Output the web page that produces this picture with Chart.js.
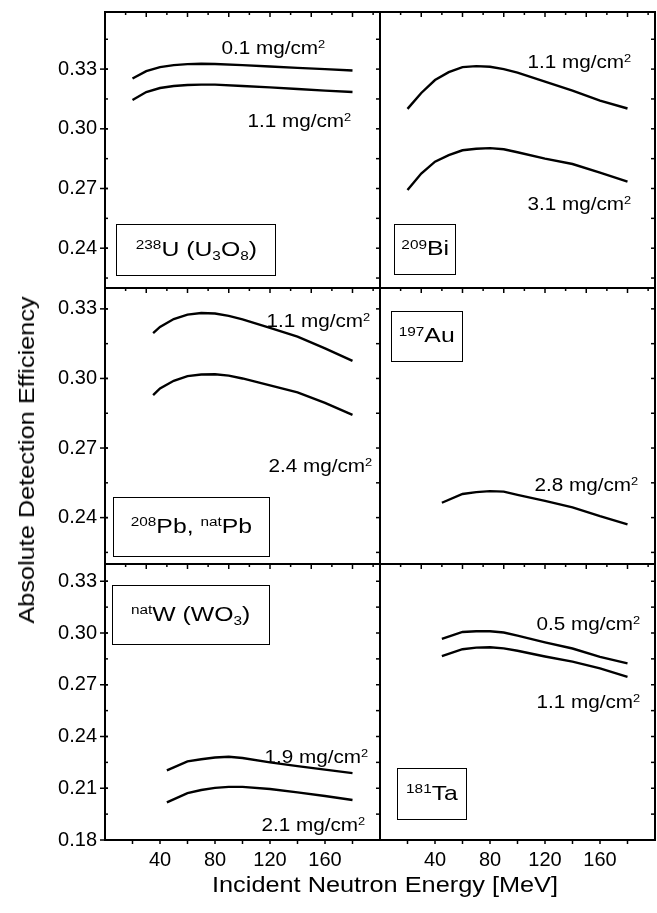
<!DOCTYPE html>
<html>
<head>
<meta charset="utf-8">
<script src="https://cdn.jsdelivr.net/npm/chart.js@4/dist/chart.umd.min.js"></script>
<style>
html,body{margin:0;padding:0;background:#fff;}
#fig{position:relative;width:657px;height:913px;overflow:hidden;background:#fff;font-family:"Liberation Sans",Arial,Helvetica,sans-serif;color:#000;}
#fig canvas{position:absolute;}
.ann{position:absolute;white-space:nowrap;font-size:18px;line-height:20px;z-index:5;}
.ann .in{display:inline-block;transform:scaleX(1.15);transform-origin:100% 50%;}
.box{position:absolute;border:1.5px solid #000;box-sizing:border-box;display:flex;align-items:center;justify-content:center;white-space:nowrap;font-size:21px;line-height:24px;z-index:5;background:transparent;}
.box .in{display:inline-block;transform:scaleX(1.18);transform-origin:50% 50%;}
.sp{font-size:0.62em;position:relative;top:-0.5em;}
.sb{font-size:0.62em;position:relative;top:0.35em;}
.title{position:absolute;white-space:nowrap;font-size:22px;line-height:26px;z-index:5;}
</style>
</head>
<body>
<div id="fig"></div>
<script>
// ---------------- data ----------------
const xTickLabels   = [40, 80, 120, 160];
const xBottomTicks  = [20, 40, 60, 80, 100, 120, 140, 160, 180];
const xTopTicks     = [15, 30, 45, 60, 75, 90, 105, 120, 135, 150, 165, 180, 195];
const xTopMajor     = [30, 60, 90, 120, 150, 180];

const yTicksRow1 = [0.24, 0.27, 0.30, 0.33];
const yMinorRow1 = [0.225, 0.24, 0.255, 0.27, 0.285, 0.30, 0.315, 0.33, 0.345];
const yTicksRow2 = [0.24, 0.27, 0.30, 0.33];
const yMinorRow2 = [0.225, 0.24, 0.255, 0.27, 0.285, 0.30, 0.315, 0.33];
const yTicksRow3 = [0.18, 0.21, 0.24, 0.27, 0.30, 0.33];
const yMinorRow3 = [0.195, 0.21, 0.225, 0.24, 0.255, 0.27, 0.285, 0.30, 0.315, 0.33];

const yRangeRow1 = [0.22, 0.3587];
const yRangeRow2 = [0.22, 0.339];
const yRangeRow3 = [0.18, 0.34];

// 238U (U3O8)
const energyU   = [20, 30, 40, 50, 60, 70, 80, 100, 120, 140, 160, 180];
const effU_0p1  = [0.3253, 0.3290, 0.3310, 0.3320, 0.3325, 0.3327, 0.3326, 0.3320, 0.3313, 0.3306, 0.3300, 0.3293];
const effU_1p1  = [0.3145, 0.3185, 0.3205, 0.3215, 0.3220, 0.3222, 0.3222, 0.3215, 0.3208, 0.3200, 0.3192, 0.3185];
// 209Bi
const energyBi  = [20, 30, 40, 50, 60, 70, 80, 90, 100, 120, 140, 160, 180];
const effBi_1p1 = [0.3100, 0.3180, 0.3245, 0.3285, 0.3310, 0.3315, 0.3312, 0.3300, 0.3282, 0.3237, 0.3192, 0.3142, 0.3102];
const effBi_3p1 = [0.2692, 0.2775, 0.2835, 0.2868, 0.2892, 0.2900, 0.2903, 0.2897, 0.2882, 0.2850, 0.2823, 0.2780, 0.2735];
// 208Pb, natPb
const energyPb  = [35, 40, 50, 60, 70, 80, 90, 100, 120, 140, 160, 180];
const effPb_1p1 = [0.3195, 0.3222, 0.3256, 0.3275, 0.3282, 0.3280, 0.3270, 0.3255, 0.3218, 0.3180, 0.3130, 0.3076];
const effPb_2p4 = [0.2928, 0.2957, 0.2990, 0.3010, 0.3017, 0.3018, 0.3012, 0.3000, 0.2970, 0.2940, 0.2895, 0.2843];
// 197Au
const energyAu  = [45, 60, 70, 80, 90, 100, 120, 140, 160, 180];
const effAu_2p8 = [0.2464, 0.2502, 0.2510, 0.2514, 0.2512, 0.2498, 0.2472, 0.2444, 0.2406, 0.2371];
// natW (WO3)
const energyW   = [45, 60, 70, 80, 90, 100, 120, 140, 160, 180];
const effW_1p9  = [0.2204, 0.2256, 0.2268, 0.2278, 0.2283, 0.2275, 0.2250, 0.2228, 0.2208, 0.2188];
const effW_2p1  = [0.2018, 0.2072, 0.2090, 0.2102, 0.2108, 0.2108, 0.2096, 0.2076, 0.2055, 0.2032];
// 181Ta
const energyTa  = [45, 60, 70, 80, 90, 100, 120, 140, 160, 180];
const effTa_0p5 = [0.2966, 0.3006, 0.3010, 0.3010, 0.3003, 0.2985, 0.2946, 0.2910, 0.2862, 0.2824];
const effTa_1p1 = [0.2866, 0.2906, 0.2915, 0.2917, 0.2911, 0.2897, 0.2864, 0.2834, 0.2795, 0.2746];

// ---------------- layout ----------------
const COL_LEFT = [105, 380];
const ROW_TOP  = [12, 288, 564];
const PW = 275, PH = 276;
const PAD = 24, YW = 90, XH = 40;
const FONT = '"Liberation Sans", Arial, Helvetica, sans-serif';

const rows = [
  {range: yRangeRow1, ticks: yTicksRow1, minor: yMinorRow1},
  {range: yRangeRow2, ticks: yTicksRow2, minor: yMinorRow2},
  {range: yRangeRow3, ticks: yTicksRow3, minor: yMinorRow3}
];

const panels = [
  {r:0, c:0, series:[[energyU, effU_0p1], [energyU, effU_1p1]]},
  {r:0, c:1, series:[[energyBi, effBi_1p1], [energyBi, effBi_3p1]]},
  {r:1, c:0, series:[[energyPb, effPb_1p1], [energyPb, effPb_2p4]]},
  {r:1, c:1, series:[[energyAu, effAu_2p8]]},
  {r:2, c:0, series:[[energyW, effW_1p9], [energyW, effW_2p1]]},
  {r:2, c:1, series:[[energyTa, effTa_0p5], [energyTa, effTa_1p1]]}
];

const near = (a, b) => Math.abs(a - b) < 1e-6;

const framePlugin = {
  id: 'frame',
  afterDraw(chart) {
    const p = chart.options.plugins.frame;
    const {ctx, chartArea: ca, scales: {x, y}} = chart;
    const line = (x1, y1, x2, y2) => { ctx.beginPath(); ctx.moveTo(x1, y1); ctx.lineTo(x2, y2); ctx.stroke(); };
    ctx.save();
    ctx.strokeStyle = '#000';
    ctx.lineWidth = 1.5;
    xTopTicks.forEach(v => {
      const px = x.getPixelForValue(v);
      const len = xTopMajor.some(m => near(m, v)) ? 5 : 3;
      line(px, ca.top, px, ca.top + len);
    });
    if (p.r === 2) {
      xBottomTicks.forEach(v => {
        const px = x.getPixelForValue(v);
        line(px, ca.bottom, px, ca.bottom + 4);
      });
    }
    const row = rows[p.r];
    row.minor.forEach(v => {
      const py = y.getPixelForValue(v);
      line(ca.right, py, ca.right - 4, py);
    });
    if (p.c === 0) {
      row.minor.forEach(v => {
        const py = y.getPixelForValue(v);
        line(ca.left, py, ca.left + 3, py);
      });
      row.ticks.forEach(v => {
        const py = y.getPixelForValue(v);
        line(ca.left - 5, py, ca.left + 3, py);
      });
    }
    ctx.lineWidth = 2;
    ctx.strokeRect(ca.left, ca.top, ca.right - ca.left, ca.bottom - ca.top);
    ctx.restore();
  }
};

const fig = document.getElementById('fig');

panels.forEach(p => {
  const row = rows[p.r];
  const showY = p.c === 0;
  const showX = p.r === 2;
  const cv = document.createElement('canvas');
  const left = COL_LEFT[p.c] - PAD - (showY ? YW : 0);
  const top = ROW_TOP[p.r] - PAD;
  const w = PAD + (showY ? YW : 0) + PW + PAD;
  const h = PAD + PH + PAD + (showX ? XH : 0);
  cv.width = w; cv.height = h;
  cv.style.left = left + 'px'; cv.style.top = top + 'px';
  cv.style.width = w + 'px'; cv.style.height = h + 'px';
  fig.appendChild(cv);

  new Chart(cv.getContext('2d'), {
    type: 'line',
    data: {
      datasets: p.series.map(s => ({
        data: s[0].map((e, i) => ({x: e, y: s[1][i]})),
        borderColor: '#000',
        borderWidth: 2.4,
        pointRadius: 0,
        tension: 0,
        fill: false
      }))
    },
    options: {
      responsive: false,
      animation: false,
      devicePixelRatio: 1,
      layout: {padding: {left: PAD, right: PAD, top: PAD, bottom: PAD}},
      plugins: {legend: {display: false}, tooltip: {enabled: false}, frame: {r: p.r, c: p.c}},
      scales: {
        x: {
          type: 'linear', min: 0, max: 200, display: showX,
          grid: {display: false, drawTicks: false}, border: {display: false},
          ticks: {color: '#000', font: {family: FONT, size: 20}, padding: 8, maxRotation: 0, autoSkip: false,
                  callback: v => String(v)},
          afterBuildTicks: s => { s.ticks = xTickLabels.map(v => ({value: v})); },
          afterFit: s => { s.height = showX ? XH : 0; }
        },
        y: {
          type: 'linear', min: row.range[0], max: row.range[1], display: showY,
          grid: {display: false, drawTicks: false}, border: {display: false},
          ticks: {color: '#000', font: {family: FONT, size: 20}, padding: 8, autoSkip: false,
                  callback: v => Number(v).toFixed(2)},
          afterBuildTicks: s => { s.ticks = row.ticks.map(v => ({value: v})); },
          afterFit: s => { s.width = showY ? YW : 0; }
        }
      }
    },
    plugins: [framePlugin]
  });
});

// ---------------- text annotations ----------------
function ann(html, right, baseline) {
  const d = document.createElement('div');
  d.className = 'ann';
  d.style.right = (657 - right) + 'px';
  d.style.top = (baseline - 16) + 'px';
  d.innerHTML = '<span class="in">' + html + '</span>';
  fig.appendChild(d);
}
const MG = ' mg/cm<span class="sp">2</span>';
ann('0.1' + MG, 325, 54);
ann('1.1' + MG, 351, 127);
ann('1.1' + MG, 631, 68);
ann('3.1' + MG, 631, 210);
ann('1.1' + MG, 370, 327);
ann('2.4' + MG, 372, 472);
ann('2.8' + MG, 638, 491);
ann('1.9' + MG, 368, 763);
ann('2.1' + MG, 365, 831);
ann('0.5' + MG, 640, 630);
ann('1.1' + MG, 640, 708);

function box(html, x1, y1, x2, y2) {
  const d = document.createElement('div');
  d.className = 'box';
  d.style.left = x1 + 'px'; d.style.top = y1 + 'px';
  d.style.width = (x2 - x1) + 'px'; d.style.height = (y2 - y1) + 'px';
  d.innerHTML = '<span class="in">' + html + '</span>';
  fig.appendChild(d);
}
box('<span class="sp">238</span>U (U<span class="sb">3</span>O<span class="sb">8</span>)', 116, 224, 276, 276);
box('<span class="sp">209</span>Bi', 394, 224, 456, 275);
box('<span class="sp">208</span>Pb, <span class="sp">nat</span>Pb', 113, 497, 270, 557);
box('<span class="sp">197</span>Au', 391, 311, 463, 362);
box('<span class="sp">nat</span>W (WO<span class="sb">3</span>)', 112, 585, 270, 645);
box('<span class="sp">181</span>Ta', 397, 768, 467, 820);

// axis titles
const xt = document.createElement('div');
xt.className = 'title';
xt.style.left = '385px'; xt.style.top = '872px';
xt.style.transform = 'translateX(-50%) scaleX(1.15)';
xt.textContent = 'Incident Neutron Energy [MeV]';
fig.appendChild(xt);

const yt = document.createElement('div');
yt.className = 'title';
yt.style.left = '27px'; yt.style.top = '460px';
yt.style.transform = 'translate(-50%,-50%) rotate(-90deg) scaleX(1.15)';
yt.textContent = 'Absolute Detection Efficiency';
fig.appendChild(yt);
</script>
</body>
</html>
